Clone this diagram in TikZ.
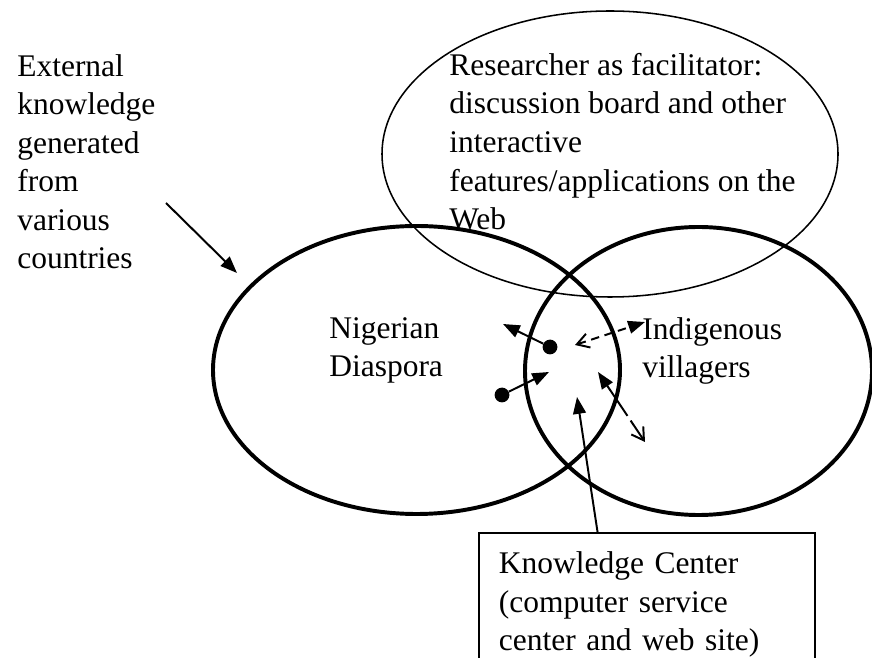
\documentclass[tikz,border=0pt]{standalone}
\usepackage{fontspec}
\setmainfont{Liberation Serif}
\usetikzlibrary{arrows.meta, positioning, calc}

\begin{document}
\begin{tikzpicture}[>={Triangle[length=0.42cm, width=0.32cm]},
  barb/.tip={Straight Barb[length=0.3cm, width=0.36cm]},
  words/.style={align=left, inner sep=0pt, anchor=north west, font=\fontsize{22.4}{27.4}\selectfont},
  group/.style={line width=2.8pt},
  link/.style={line width=1.4pt},
  dot/.style={circle, fill, inner sep=0pt, minimum size=0.37cm}]

\useasboundingbox (0,0) rectangle (21.8,16.425);

% Researcher on the Web
\draw[line width=1.1pt] (15.25,12.575) ellipse (5.7 and 3.575);
\node[words] (res) at (11.225,15.1) {Researcher as facilitator:\\discussion board and other\\interactive\\features/applications on the\\Web};

% Diaspora and villagers
\draw[group] (10.4125,7.175) ellipse (5.0875 and 3.6);
\draw[group] (17.4625,7.15) ellipse (4.3375 and 3.6);
\node[words] (nig) at (8.225,8.5) {Nigerian\\Diaspora};
\node[words] (ind) at (16.05,8.5) {Indigenous\\villagers};

% knowledge from outside
\node[words] (ext) at (0.425,15.075) {External\\knowledge\\generated\\from\\various\\countries};
\coordinate (extfrom) at (4.15,11.35);
\coordinate (extto) at (5.925,9.6);
\draw[link,->] (extfrom) -- (extto);

% members meeting in the overlap
\node[dot] (d1) at (13.75,7.75) {};
\node[dot] (d2) at (12.55,6.55) {};
\coordinate (d1to) at (12.575,8.325);
\coordinate (d2to) at (13.725,7.125);
\draw[link,->] (d1) -- (d1to);
\draw[link,->] (d2) -- (d2to);

\coordinate (hubl) at (14.375,7.8);
\coordinate (hubr) at (16.125,8.375);
\draw[link,dash pattern=on 6pt off 4pt,barb->] (hubl) -- (hubr);

\coordinate (hubu) at (14.95,7.125);
\coordinate (hubd) at (16.125,5.375);
\draw[link,dash pattern=on 26pt off 4pt,<-barb] (hubu) -- (hubd);

% Knowledge Center box
\node[draw, line width=1.2pt, anchor=north west, align=left, text width=7.4cm,
  inner xsep=0.5cm, inner ysep=0.48cm, text depth=3cm,
  font=\fontsize{22.4}{27.4}\selectfont] (kc) at (11.95,3.125)
  {Knowledge Center\\(computer service\\center and web site)};
\coordinate (kcto) at (14.425,6.5);
\draw[link,->] ($(kc.north west)!0.354!(kc.north east)$) -- (kcto);

\end{tikzpicture}
\end{document}
